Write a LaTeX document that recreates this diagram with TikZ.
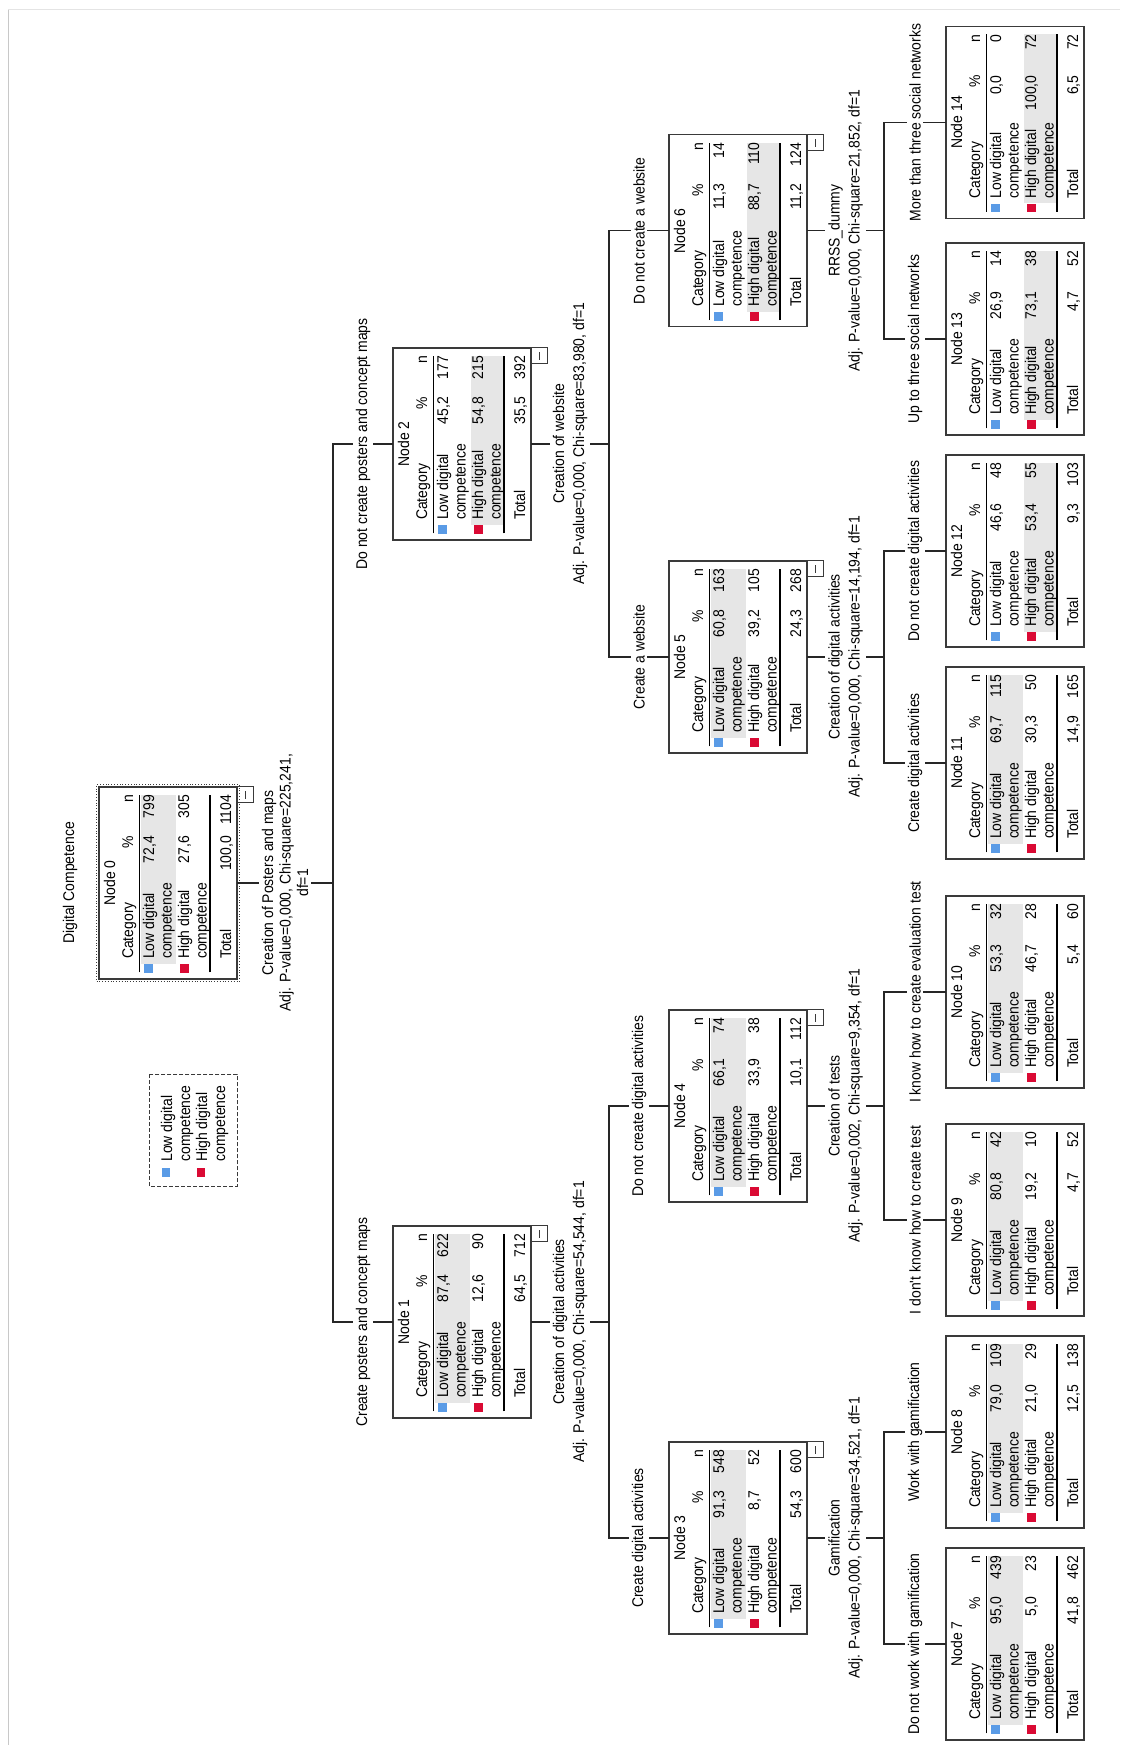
\documentclass[tikz,border=0pt]{standalone}
\usepackage{fontspec}
\setmainfont{Liberation Sans}[FakeStretch=0.9]
\usetikzlibrary{calc}

\definecolor{lowblue}{HTML}{5A9BE6}
\definecolor{highred}{HTML}{DA0A34}
\definecolor{rowgrey}{HTML}{E6E6E6}
\definecolor{boxedge}{HTML}{3A3A3A}
\definecolor{wire}{HTML}{262626}
\definecolor{frametop}{HTML}{E4E4E4}
\definecolor{frameleft}{HTML}{C8C8C8}

\tikzset{
  txt/.style={font=\fontsize{15.5}{17.5}\selectfont, inner sep=0pt, outer sep=0pt},
  nodebox/.style={draw=boxedge, line width=1.3pt, fill=white, minimum width=192pt,
    minimum height=138pt, inner sep=0pt, outer sep=0pt},
  minusbox/.style={draw=boxedge, line width=1pt, fill=white, minimum width=16pt,
    minimum height=16pt, inner sep=0pt, outer sep=0pt, anchor=north east},
  tablerule/.style={draw=black, line width=1.1pt},
  wireline/.style={draw=wire, line width=1.3pt},
  splitlab/.style={txt, fill=white, align=center, inner sep=3pt, font=\fontsize{15.5}{20}\selectfont},
  branchlab/.style={txt, fill=white, inner sep=2.5pt},
  legendbox/.style={draw=boxedge, line width=1pt, dash pattern=on 4pt off 2pt,
    minimum width=112pt, minimum height=88pt, inner sep=0pt, outer sep=0pt},
}

% contingency node: #1 name, #2 centre along the row, #3 top depth, #4 number, #5 modal row
\newcommand\ctnode[5]{%
  \pgfmathsetmacro\cL{#2-96}%
  \pgfmathsetmacro\cT{#3}%
  \node[nodebox] (#1) at (#2,#3+69) {};
  \ifnum#5=1\relax
    \fill[rowgrey] (\cL+15,\cT+41.5) rectangle (\cL+184,\cT+77);
  \else
    \fill[rowgrey] (\cL+15,\cT+78) rectangle (\cL+184,\cT+110.5);
  \fi
  \fill[lowblue] (\cL+6,\cT+45) rectangle (\cL+14.5,\cT+53.5);
  \fill[highred] (\cL+6,\cT+81) rectangle (\cL+14.5,\cT+89.5);
  \draw[tablerule] (\cL+6.5,\cT+40.5) -- (\cL+184,\cT+40.5);
  \draw[tablerule] (\cL+6.5,\cT+111) -- (\cL+184,\cT+111);
  \node[txt, anchor=base] (#1-title) at (#2,\cT+16) {Node #4};
  \node[txt, anchor=base west] (#1-cat) at (\cL+20,\cT+34) {Category};
  \node[txt, anchor=base east] (#1-pct) at (\cL+143,\cT+34) {\%};
  \node[txt, anchor=base east] (#1-n) at (\cL+184,\cT+34) {n};
  \node[txt, anchor=base west] (#1-low) at (\cL+20,\cT+55) {Low digital};
  \node[txt, anchor=base west] (#1-lowb) at (\cL+20,\cT+72.5) {competence};
  \node[txt, anchor=base west] (#1-high) at (\cL+20,\cT+90) {High digital};
  \node[txt, anchor=base west] (#1-highb) at (\cL+20,\cT+107.5) {competence};
  \node[txt, anchor=base west] (#1-tot) at (\cL+20,\cT+132) {Total};
}

% percentages and counts of the last node drawn
\newcommand\ctvals[7]{%
  \node[txt, anchor=base east] (#1-p1) at (\cL+143,\cT+55) {#2};
  \node[txt, anchor=base east] (#1-c1) at (\cL+184,\cT+55) {#3};
  \node[txt, anchor=base east] (#1-p2) at (\cL+143,\cT+90) {#4};
  \node[txt, anchor=base east] (#1-c2) at (\cL+184,\cT+90) {#5};
  \node[txt, anchor=base east] (#1-pt) at (\cL+143,\cT+132) {#6};
  \node[txt, anchor=base east] (#1-ct) at (\cL+184,\cT+132) {#7};
}

% collapse button under an expanded node
\newcommand\ctminus[1]{%
  \node[minusbox] (#1-fold) at (#1.south east) {};
  \draw[boxedge, line width=1pt] ($(#1-fold.center)+(-4,0)$) -- ($(#1-fold.center)+(4,0)$);
}

\begin{document}
\begin{tikzpicture}[x=1pt, y=-1pt, rotate=90, transform shape]
\fill[white] (0,0) rectangle (1745,1120);
\useasboundingbox (0,0) rectangle (1745,1120);

% viewer frame
\draw[frametop, line width=1pt] (1735,8) -- (1735,1120);
\draw[frameleft, line width=1.2pt] (1735,8.3) -- (0,8.3);

% title
\node[txt, anchor=base] (title) at (862,74) {Digital Competence};

% legend
\node[legendbox] (legend) at (614.5,193.3) {};
\fill[lowblue] (568,161.7) rectangle (576.5,170.2);
\fill[highred] (568,196.7) rectangle (576.5,205.2);
\node[txt, anchor=base west] (leg-low) at (583.3,172) {Low digital};
\node[txt, anchor=base west] (leg-lowb) at (583.3,190) {competence};
\node[txt, anchor=base west] (leg-high) at (583.3,207) {High digital};
\node[txt, anchor=base west] (leg-highb) at (583.3,225) {competence};

% level 0
\ctnode{n0}{862.06}{99}{0}{1}
\ctvals{n0}{72,4}{799}{27,6}{305}{100,0}{1104}
\ctminus{n0}
\draw[boxedge, line width=0.8pt, dotted] ($(n0.north west)+(-2.5,-2.5)$) rectangle ($(n0.south east)+(2.5,2.5)$);

% level 1
\ctnode{n1}{423}{393}{1}{1}
\ctvals{n1}{87,4}{622}{12,6}{90}{64,5}{712}
\ctminus{n1}
\ctnode{n2}{1301.125}{393}{2}{2}
\ctvals{n2}{45,2}{177}{54,8}{215}{35,5}{392}
\ctminus{n2}

% level 2
\ctnode{n3}{207}{669}{3}{1}
\ctvals{n3}{91,3}{548}{8,7}{52}{54,3}{600}
\ctminus{n3}
\ctnode{n4}{639}{669}{4}{1}
\ctvals{n4}{66,1}{74}{33,9}{38}{10,1}{112}
\ctminus{n4}
\ctnode{n5}{1088}{669}{5}{1}
\ctvals{n5}{60,8}{163}{39,2}{105}{24,3}{268}
\ctminus{n5}
\ctnode{n6}{1514.25}{669}{6}{2}
\ctvals{n6}{11,3}{14}{88,7}{110}{11,2}{124}
\ctminus{n6}

% level 3
\ctnode{n7}{101}{946}{7}{1}
\ctvals{n7}{95,0}{439}{5,0}{23}{41,8}{462}
\ctnode{n8}{313}{946}{8}{1}
\ctvals{n8}{79,0}{109}{21,0}{29}{12,5}{138}
\ctnode{n9}{525}{946}{9}{1}
\ctvals{n9}{80,8}{42}{19,2}{10}{4,7}{52}
\ctnode{n10}{753}{946}{10}{1}
\ctvals{n10}{53,3}{32}{46,7}{28}{5,4}{60}
\ctnode{n11}{982}{946}{11}{1}
\ctvals{n11}{69,7}{115}{30,3}{50}{14,9}{165}
\ctnode{n12}{1194}{946}{12}{2}
\ctvals{n12}{46,6}{48}{53,4}{55}{9,3}{103}
\ctnode{n13}{1406}{946}{13}{2}
\ctvals{n13}{26,9}{14}{73,1}{38}{4,7}{52}
\ctnode{n14}{1622.5}{946}{14}{2}
\ctvals{n14}{0,0}{0}{100,0}{72}{6,5}{72}

% split joints
\coordinate (j0) at (862.06,333);
\coordinate (e1) at (423,333);
\coordinate (e2) at (1301.125,333);
\coordinate (j1) at (423,609);
\coordinate (e3) at (207,609);
\coordinate (e4) at (639,609);
\coordinate (j2) at (1301.125,609);
\coordinate (e5) at (1088,609);
\coordinate (e6) at (1514.25,609);
\coordinate (j3) at (207,884);
\coordinate (e7) at (101,884);
\coordinate (e8) at (313,884);
\coordinate (j4) at (639,884);
\coordinate (e9) at (525,884);
\coordinate (e10) at (753,884);
\coordinate (j5) at (1088,884);
\coordinate (e11) at (982,884);
\coordinate (e12) at (1194,884);
\coordinate (j6) at (1514.25,884);
\coordinate (e13) at (1406,884);
\coordinate (e14) at (1622.5,884);

% connectors
\draw[wireline] (n0.south) -- (j0);
\draw[wireline] (n1.north) -- (e1) -- (e2) -- (n2.north);
\draw[wireline] (n1.south) -- (j1);
\draw[wireline] (n3.north) -- (e3) -- (e4) -- (n4.north);
\draw[wireline] (n2.south) -- (j2);
\draw[wireline] (n5.north) -- (e5) -- (e6) -- (n6.north);
\draw[wireline] (n3.south) -- (j3);
\draw[wireline] (n7.north) -- (e7) -- (e8) -- (n8.north);
\draw[wireline] (n4.south) -- (j4);
\draw[wireline] (n9.north) -- (e9) -- (e10) -- (n10.north);
\draw[wireline] (n5.south) -- (j5);
\draw[wireline] (n11.north) -- (e11) -- (e12) -- (n12.north);
\draw[wireline] (n6.south) -- (j6);
\draw[wireline] (n13.north) -- (e13) -- (e14) -- (n14.north);

% split labels
\node[splitlab, font=\fontsize{15.5}{17.5}\selectfont] (s0) at ($(n0.south)!0.5!(j0)$)
  {Creation of Posters and maps\\Adj. P-value=0,000, Chi-square=225,241,\\df=1};
\node[splitlab] (s1) at ($(n1.south)!0.5!(j1)$)
  {Creation of digital activities\\Adj. P-value=0,000, Chi-square=54,544, df=1};
\node[splitlab] (s2) at ($(n2.south)!0.5!(j2)$)
  {Creation of website\\Adj. P-value=0,000, Chi-square=83,980, df=1};
\node[splitlab] (s3) at ($(n3.south)!0.5!(j3)$)
  {Gamification\\Adj. P-value=0,000, Chi-square=34,521, df=1};
\node[splitlab] (s4) at ($(n4.south)!0.5!(j4)$)
  {Creation of tests\\Adj. P-value=0,002, Chi-square=9,354, df=1};
\node[splitlab] (s5) at ($(n5.south)!0.5!(j5)$)
  {Creation of digital activities\\Adj. P-value=0,000, Chi-square=14,194, df=1};
\node[splitlab] (s6) at ($(n6.south)!0.5!(j6)$)
  {RRSS\_dummy\\Adj. P-value=0,000, Chi-square=21,852, df=1};

% branch labels
\node[branchlab] (b1) at ($(e1)!0.5!(n1.north)$) {Create posters and concept maps};
\node[branchlab] (b2) at ($(e2)!0.5!(n2.north)$) {Do not create posters and concept maps};
\node[branchlab] (b3) at ($(e3)!0.5!(n3.north)$) {Create digital activities};
\node[branchlab] (b4) at ($(e4)!0.5!(n4.north)$) {Do not create digital activities};
\node[branchlab] (b5) at ($(e5)!0.5!(n5.north)$) {Create a website};
\node[branchlab] (b6) at ($(e6)!0.5!(n6.north)$) {Do not create a website};
\node[branchlab] (b7) at ($(e7)!0.5!(n7.north)$) {Do not work with gamification};
\node[branchlab] (b8) at ($(e8)!0.5!(n8.north)$) {Work with gamification};
\node[branchlab] (b9) at ($(e9)!0.5!(n9.north)$) {I don\textquotesingle t know how to create test};
\node[branchlab] (b10) at ($(e10)!0.5!(n10.north)$) {I know how to create evaluation test};
\node[branchlab] (b11) at ($(e11)!0.5!(n11.north)$) {Create digital activities};
\node[branchlab] (b12) at ($(e12)!0.5!(n12.north)$) {Do not create digital activities};
\node[branchlab] (b13) at ($(e13)!0.5!(n13.north)$) {Up to three social networks};
\node[branchlab] (b14) at ($(e14)!0.5!(n14.north)$) {More than three social networks};
\end{tikzpicture}
\end{document}
